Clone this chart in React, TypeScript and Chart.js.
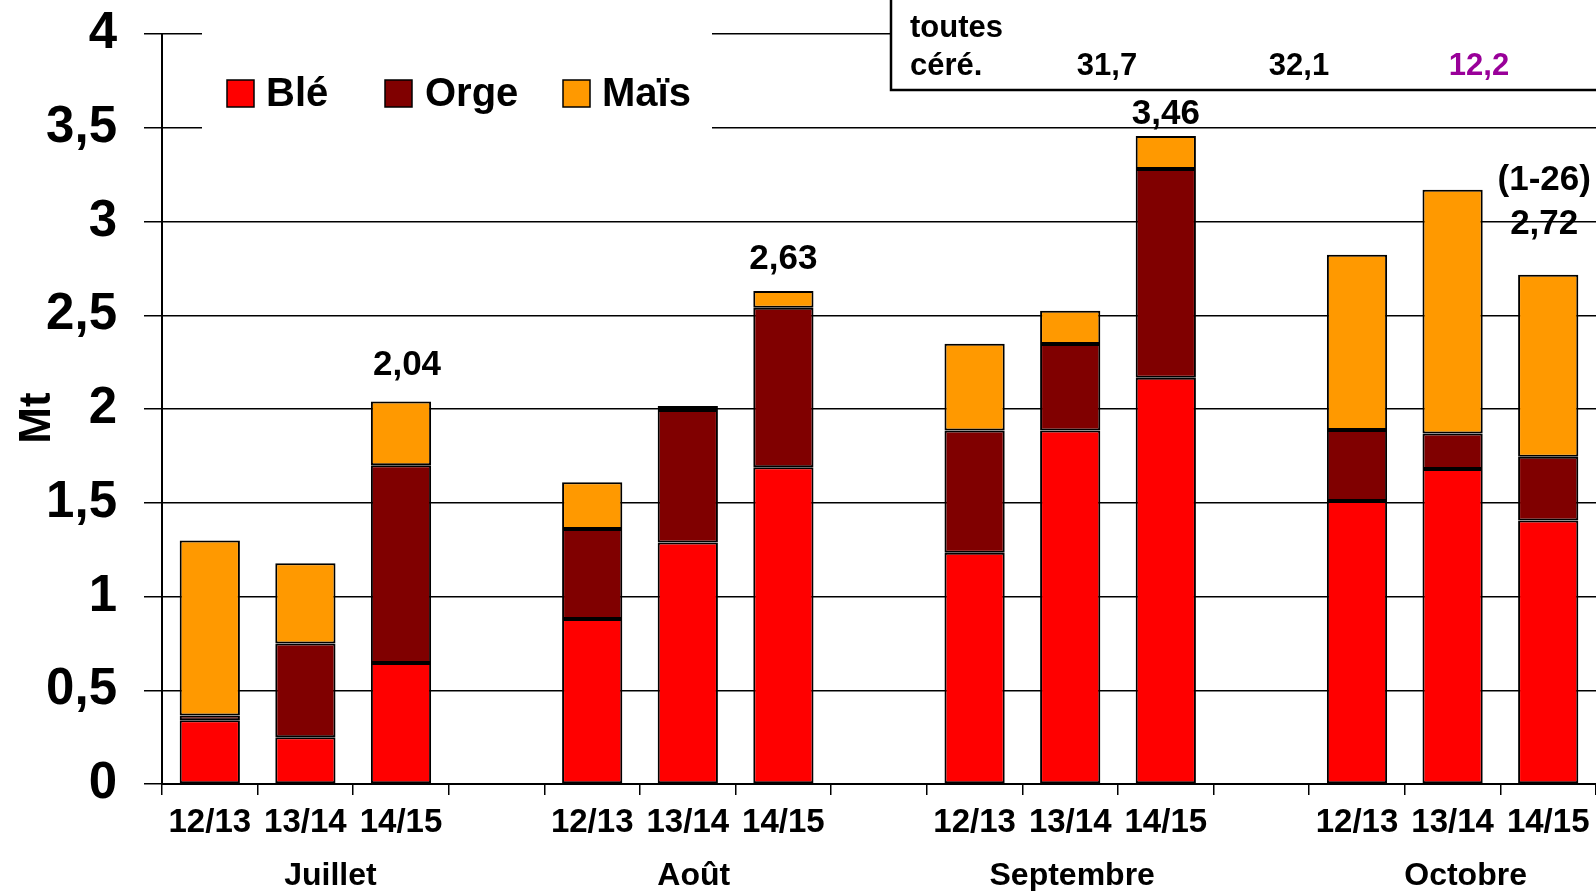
import React, { useEffect, useRef } from 'react';
import { Chart, registerables } from 'chart.js';

Chart.register(...registerables);

const FONT = '"Liberation Sans", Arial, Helvetica, sans-serif';

// ---- Data ----
const categories = [
  '12/13', '13/14', '14/15', '',
  '12/13', '13/14', '14/15', '',
  '12/13', '13/14', '14/15', '',
  '12/13', '13/14', '14/15',
];
const months = ['Juillet', 'Août', 'Septembre', 'Octobre'];
const monthMiddleIndex = [1, 5, 9, 13];

const ble = [0.34, 0.25, 0.645, null, 0.88, 1.288, 1.69, null, 1.234, 1.886, 2.167, null, 1.51, 1.68, 1.406];
const orge = [0.025, 0.5, 1.055, null, 0.48, 0.707, 0.85, null, 0.652, 0.461, 1.113, null, 0.378, 0.19, 0.34];
const mais = [0.934, 0.428, 0.34, null, 0.25, 0.021, 0.09, null, 0.462, 0.177, 0.176, null, 0.935, 1.3, 0.97];

const totalLabels = ['', '', '2,04', '', '', '', '2,63', '', '', '', '3,46', '', '', '', '2,72'];
const totalNotes = ['', '', '', '', '', '', '', '', '', '', '', '', '', '', '(1-26)'];

const yMin = 0;
const yMax = 4;
const yStep = 0.5;

const tableHeader = ['toutes', 'céré.'];
const tableValues = ['31,7', '32,1', '12,2'];
const tableColors = ['#000000', '#000000', '#990099'];

const seriesNames = ['Blé', 'Orge', 'Maïs'];
const seriesColors = ['#FF0000', '#800000', '#FF9900'];

// ---- Overlay plugin (legend box, table, labels) ----
const overlayPlugin = {
  id: 'overlay',
  afterDraw(chart: any) {
    const ctx = chart.ctx;
    const xs = chart.scales.x;
    const ys = chart.scales.y;
    ctx.save();

    // Legend box (white, covers gridlines)
    ctx.fillStyle = '#ffffff';
    ctx.fillRect(202, 16, 510, 124);
    const sqX = [227, 385, 563];
    const txX = [266, 425, 602];
    ctx.font = `bold 40px ${FONT}`;
    ctx.textAlign = 'left';
    ctx.textBaseline = 'alphabetic';
    for (let i = 0; i < seriesNames.length; i++) {
      ctx.fillStyle = seriesColors[i];
      ctx.fillRect(sqX[i], 80, 27, 27);
      ctx.strokeStyle = '#000';
      ctx.lineWidth = 1.5;
      ctx.strokeRect(sqX[i], 80, 27, 27);
      ctx.fillStyle = '#000';
      ctx.fillText(seriesNames[i], txX[i], 106);
    }

    // Table box at top right
    ctx.fillStyle = '#ffffff';
    ctx.fillRect(891, -5, 720, 95);
    ctx.strokeStyle = '#000';
    ctx.lineWidth = 2.5;
    ctx.beginPath();
    ctx.moveTo(891, -2);
    ctx.lineTo(891, 90);
    ctx.lineTo(1600, 90);
    ctx.stroke();
    ctx.font = `bold 31px ${FONT}`;
    ctx.fillStyle = '#000';
    ctx.textAlign = 'left';
    ctx.fillText(tableHeader[0], 910, 37);
    ctx.fillText(tableHeader[1], 910, 75);
    const tvX = [1107, 1299, 1479];
    ctx.textAlign = 'center';
    for (let i = 0; i < tableValues.length; i++) {
      ctx.fillStyle = tableColors[i];
      ctx.fillText(tableValues[i], tvX[i], 75);
    }

    // Total labels above bars
    const offsets: Record<number, number> = { 2: 27, 6: 22, 10: 12, 14: 41 };
    ctx.font = `bold 35px ${FONT}`;
    ctx.fillStyle = '#000';
    ctx.textAlign = 'center';
    for (let i = 0; i < totalLabels.length; i++) {
      if (!totalLabels[i]) continue;
      const sum = (ble[i] || 0) + (orge[i] || 0) + (mais[i] || 0);
      const x = xs.getPixelForValue(i);
      const y = ys.getPixelForValue(sum) - (offsets[i] ?? 20);
      ctx.fillText(totalLabels[i], x - (i === 14 ? 4 : 0) + (i === 2 ? 6 : 0), y);
      if (totalNotes[i]) ctx.fillText(totalNotes[i], x - 4, y - 44);
    }

    // Month group labels
    const monthOffsets = [25, 6, 2, 13];
    ctx.font = `bold 32px ${FONT}`;
    ctx.textAlign = 'center';
    for (let m = 0; m < months.length; m++) {
      const x = xs.getPixelForValue(monthMiddleIndex[m]) + monthOffsets[m];
      ctx.fillText(months[m], x, 885);
    }

    // Y axis title
    ctx.save();
    ctx.translate(50, 418);
    ctx.rotate(-Math.PI / 2);
    ctx.font = `bold 44px ${FONT}`;
    ctx.textAlign = 'center';
    ctx.textBaseline = 'alphabetic';
    ctx.fillText('Mt', 0, 0);
    ctx.restore();

    ctx.restore();
  },
};

export default function App() {
  const canvasRef = useRef<HTMLCanvasElement | null>(null);

  useEffect(() => {
    if (!canvasRef.current) return;
    const datasets = [ble, orge, mais].map((d, i) => ({
      label: seriesNames[i],
      data: d,
      backgroundColor: seriesColors[i],
      borderColor: '#000000',
      borderWidth: 2,
      borderSkipped: false,
      barPercentage: 0.63,
      categoryPercentage: 1,
    }));
    const chart = new Chart(canvasRef.current, {
      type: 'bar',
      data: { labels: categories, datasets },
      options: {
        animation: false,
        responsive: true,
        maintainAspectRatio: false,
        layout: { padding: { top: 34, right: 0, left: 0, bottom: 0 } },
        plugins: {
          legend: { display: false },
          tooltip: { enabled: false },
        },
        scales: {
          x: {
            stacked: true,
            grid: {
              offset: true,
              drawOnChartArea: false,
              drawTicks: true,
              tickLength: 11,
              color: '#000',
              lineWidth: 1.5,
            },
            border: { color: '#000', width: 2 },
            ticks: {
              color: '#000',
              font: { family: FONT, size: 33, weight: 'bold' },
              padding: 8,
              maxRotation: 0,
              autoSkip: false,
            },
            afterFit: (s: any) => {
              s.height = 107;
              s.paddingLeft = 0;
              s.paddingRight = 0;
            },
          },
          y: {
            stacked: true,
            min: yMin,
            max: yMax,
            ticks: {
              stepSize: yStep,
              color: '#000',
              font: { family: FONT, size: 51, weight: 'bold' },
              padding: 27,
              callback: (v: any) => String(v).replace('.', ','),
            },
            grid: { color: '#000', lineWidth: 1.5, tickLength: 18 },
            border: { color: '#000', width: 2 },
            afterFit: (s: any) => {
              s.width = 162;
              s.paddingTop = 0;
              s.paddingBottom = 0;
            },
          },
        },
      } as any,
      plugins: [overlayPlugin],
    });
    return () => chart.destroy();
  }, []);

  return (
    <div style={{ position: 'absolute', left: 0, top: 0, width: 1596, height: 891, background: '#fff' }}>
      <canvas ref={canvasRef} />
    </div>
  );
}
